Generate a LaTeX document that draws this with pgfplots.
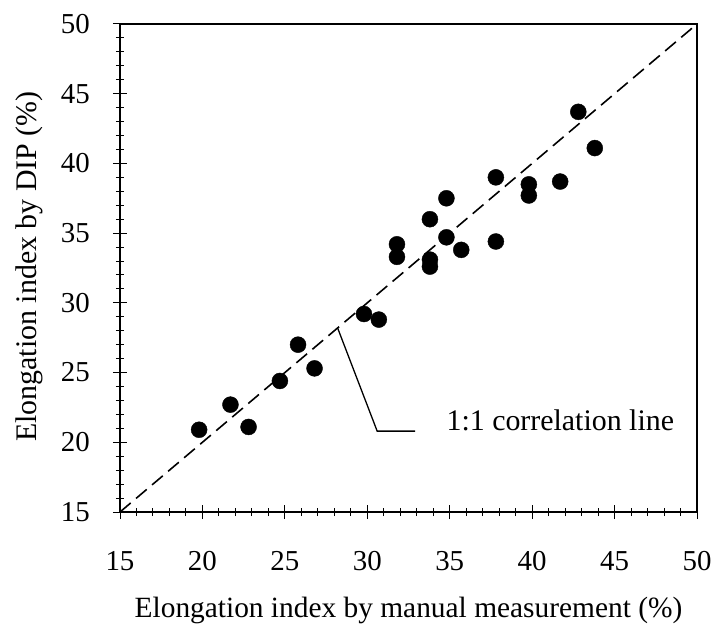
\documentclass[border=0pt]{standalone}
\usepackage{fontspec}
\setmainfont{Liberation Serif}
\usepackage{pgfplots}
\pgfplotsset{compat=1.18}
\begin{document}
\begin{tikzpicture}
\begin{axis}[
  scale only axis,
  width=577bp, height=488bp,
  xmin=15, xmax=50, ymin=15, ymax=50,
  xtick={15,20,...,50}, ytick={15,20,...,50},
  minor tick num=4,
  tick pos=left,
  tick align=center,
  major tick length=14bp,
  minor tick length=8bp,
  axis line style={line width=1.7pt},
  tick style={line width=1pt, black},
  /pgf/number format/assume math mode=true,
  ticklabel style={font=\fontsize{29}{34}\selectfont, inner sep=0pt},
  xticklabel style={anchor=center, yshift=-42bp},
  yticklabel style={anchor=east, xshift=-23bp},
  xlabel={Elongation index by manual measurement (\%)},
  ylabel={Elongation index by DIP (\%)},
  xlabel style={font=\fontsize{29.5}{34}\selectfont, inner sep=0pt, anchor=center, at={(axis description cs:0.5,-0.2008)}},
  ylabel style={font=\fontsize{30}{34}\selectfont, inner sep=0pt, anchor=center, at={(axis description cs:-0.157,0.503)}},
  clip=false,
]
\addplot[black, line width=1.6pt, dash pattern=on 14bp off 7bp] coordinates {(15,15) (50,50)};
\addplot[only marks, mark=*, mark size=8bp, black] coordinates {
(42.8,43.7) (43.8,41.1) (37.8,39.0) (39.8,38.5) (39.8,37.7) (41.7,38.7)
(34.8,37.5) (33.8,36.0) (34.8,34.7) (31.8,34.2) (31.8,33.3) (35.7,33.8)
(37.8,34.4) (33.8,33.1) (33.8,32.6) (29.8,29.2) (30.7,28.8) (25.8,27.0)
(26.8,25.3) (24.7,24.4) (21.7,22.7) (19.8,20.9) (22.8,21.1)
};
\addplot[black, line width=1.3pt] coordinates {(28.2,28.2) (30.6,20.8) (32.9,20.8)};
\node[anchor=west, inner sep=0pt, font=\fontsize{30}{34}\selectfont] at (axis cs:34.8,21.6) {1:1 correlation line};
\end{axis}
\path (current axis.south west) +(-120bp,-115bp) (current axis.north east) +(19bp,24bp);
\end{tikzpicture}
\end{document}
